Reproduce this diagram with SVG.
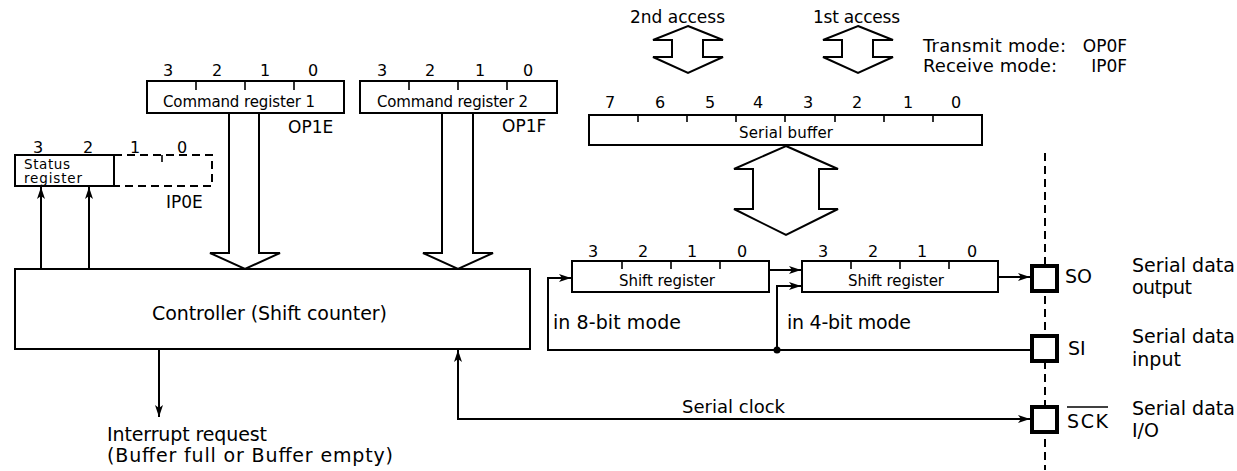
<svg xmlns="http://www.w3.org/2000/svg" width="1237" height="471" viewBox="0 0 1237 471">
<defs>
<style>
text{font-family:"DejaVu Sans","Liberation Sans",sans-serif;fill:#000}
.box{fill:#fff;stroke:#000;stroke-width:2}
.ln{fill:none;stroke:#000;stroke-width:2}
.arr{fill:none;stroke:#000;stroke-width:2;marker-end:url(#ah)}
.tk{fill:none;stroke:#000;stroke-width:1.6}
.dash{fill:none;stroke:#000;stroke-width:2;stroke-dasharray:8 5}
.big{fill:#fff;stroke:#000;stroke-width:2;stroke-linejoin:miter}
.pin{fill:#fff;stroke:#000;stroke-width:4}
.d{font-size:16px;text-anchor:middle}
.lbl{font-size:15px;text-anchor:middle}
.reg{font-size:17px}
.t19{font-size:19px}
.t18{font-size:18px}
.t17{font-size:17px}
</style>
<marker id="ah" markerUnits="userSpaceOnUse" viewBox="0 0 12 8" markerWidth="12" markerHeight="8" refX="12" refY="4" orient="auto-start-reverse"><path d="M0,0 L12,4 L0,8 L3,4 Z" fill="#000"/></marker>
</defs>
<rect width="1237" height="471" fill="#fff"/>

<g id="connectors">
  <polyline class="big" points="229,113 229,253 210,253 245,269 280,253 259,253 259,113"/>
  <polyline class="big" points="442,113 442,253 423,253 458,269 493,253 473,253 473,113"/>
  <polygon class="big" points="786,146 838,169 819,169 819,209 838,209 786,235 734,209 753,209 753,169 734,169"/>
  <path class="arr" d="M41,269 V187"/>
  <path class="arr" d="M89,269 V187"/>
  <path class="arr" d="M159,349 V417"/>
  <path class="arr" d="M458,350 V419 H1030" style="marker-start:url(#ah)"/>
  <path class="arr" d="M769,270 H801"/>
  <path class="arr" d="M1030,350 H548 V278 H571"/>
  <path class="arr" d="M777,350 V286 H801"/>
  <path class="arr" d="M998,277 H1030"/>
  <circle cx="777" cy="350" r="3.5" fill="#000"/>
</g>

<g id="access-2nd">
  <polygon class="big" points="688,26 723,40 703,40 703,57 723,57 688,73 653,57 672,57 672,40 653,40"/>
  <text class="t17" x="630" y="23" textLength="95">2nd access</text>
</g>
<g id="access-1st">
  <polygon class="big" points="858,26 893,40 873,40 873,57 893,57 858,73 823,57 842,57 842,40 823,40"/>
  <text class="t17" x="813" y="23" textLength="87">1st access</text>
</g>
<g id="mode-note">
  <text class="t18" x="923" y="52" textLength="143">Transmit mode:</text>
  <text class="t17" x="1127" y="52" text-anchor="end">OP0F</text>
  <text class="t18" x="923" y="72" textLength="134">Receive mode:</text>
  <text class="t17" x="1127" y="72" text-anchor="end">IP0F</text>
</g>

<g id="command-register-1">
  <rect class="box" x="147" y="81" width="197" height="32"/>
  <path class="tk" d="M196,81v9M245,81v9M294,81v9"/>
  <text class="d" x="168" y="76">3</text><text class="d" x="217" y="76">2</text><text class="d" x="265" y="76">1</text><text class="d" x="313" y="76">0</text>
  <text class="lbl" x="239" y="107" textLength="152">Command register 1</text>
  <text class="reg" x="288" y="133">OP1E</text>
</g>

<g id="command-register-2">
  <rect class="box" x="360" y="81" width="197" height="32"/>
  <path class="tk" d="M409,81v9M458,81v9M507,81v9"/>
  <text class="d" x="382" y="76">3</text><text class="d" x="430" y="76">2</text><text class="d" x="480" y="76">1</text><text class="d" x="528" y="76">0</text>
  <text class="lbl" x="452.5" y="107" textLength="151">Command register 2</text>
  <text class="reg" x="502" y="132">OP1F</text>
</g>

<g id="status-register">
  <rect class="box" x="15" y="155" width="99" height="31"/>
  <path class="dash" d="M114,155 H212 V186 H114"/>
  <path class="tk" d="M162,155 v7"/>
  <text class="d" x="38" y="153">3</text><text class="d" x="88" y="153">2</text><text class="d" x="135" y="153">1</text><text class="d" x="182" y="153">0</text>
  <text x="24" y="169" font-size="13.5" textLength="46">Status</text>
  <text x="24" y="183" font-size="13.5" textLength="58">register</text>
  <text class="reg" x="166" y="208">IP0E</text>
</g>

<g id="controller">
  <rect class="box" x="15" y="269" width="515" height="80"/>
  <text class="t19" x="269.5" y="320" text-anchor="middle" textLength="235">Controller (Shift counter)</text>
</g>

<g id="interrupt-label">
  <text class="t19" x="107" y="441" textLength="160">Interrupt request</text>
  <text class="t19" x="107" y="462" textLength="286">(Buffer full or Buffer empty)</text>
</g>

<g id="serial-buffer">
  <rect class="box" x="589" y="115" width="393" height="30"/>
  <path class="tk" d="M638,115v7M687,115v7M736,115v7M785,115v7M835,115v7M884,115v7M933,115v7"/>
  <text class="d" x="610" y="108">7</text><text class="d" x="660" y="108">6</text><text class="d" x="710" y="108">5</text><text class="d" x="758" y="108">4</text>
  <text class="d" x="808" y="108">3</text><text class="d" x="857" y="108">2</text><text class="d" x="908" y="108">1</text><text class="d" x="956" y="108">0</text>
  <text class="lbl" x="786" y="138" textLength="94">Serial buffer</text>
</g>

<g id="shift-register-1">
  <rect class="box" x="572" y="261" width="197" height="31"/>
  <path class="tk" d="M622,261v8M671,261v8M720,261v8"/>
  <text class="d" x="593" y="257">3</text><text class="d" x="643" y="257">2</text><text class="d" x="692" y="257">1</text><text class="d" x="742" y="257">0</text>
  <text class="lbl" x="667" y="286" textLength="96">Shift register</text>
  <text class="t19" x="553" y="329" textLength="128">in 8-bit mode</text>
</g>

<g id="shift-register-2">
  <rect class="box" x="802" y="261" width="196" height="31"/>
  <path class="tk" d="M851,261v8M900,261v8M949,261v8"/>
  <text class="d" x="823" y="257">3</text><text class="d" x="873" y="257">2</text><text class="d" x="922" y="257">1</text><text class="d" x="972" y="257">0</text>
  <text class="lbl" x="896" y="286" textLength="96">Shift register</text>
  <text class="t19" x="787" y="329" textLength="124">in 4-bit mode</text>
</g>

<text class="t18" x="682" y="413" textLength="103">Serial clock</text>

<line x1="1045" y1="153" x2="1045" y2="470" stroke="#000" stroke-width="2" stroke-dasharray="8 5"/>

<g id="pin-so">
  <rect class="pin" x="1032" y="266" width="25" height="25"/>
  <text class="t19" x="1065" y="283">SO</text>
  <text class="t19" x="1132" y="272" textLength="103">Serial data</text>
  <text class="t19" x="1132" y="294" textLength="60">output</text>
</g>
<g id="pin-si">
  <rect class="pin" x="1032" y="336" width="25" height="25"/>
  <text class="t19" x="1068" y="355">SI</text>
  <text class="t19" x="1132" y="343" textLength="103">Serial data</text>
  <text class="t19" x="1132" y="366">input</text>
</g>
<g id="pin-sck">
  <rect class="pin" x="1032" y="407" width="25" height="25"/>
  <text class="t19" x="1067" y="428" textLength="41">SCK</text>
  <line x1="1067" y1="407" x2="1108" y2="407" stroke="#000" stroke-width="1.6"/>
  <text class="t19" x="1132" y="415" textLength="103">Serial data</text>
  <text class="t19" x="1132" y="437">I/O</text>
</g>
</svg>
